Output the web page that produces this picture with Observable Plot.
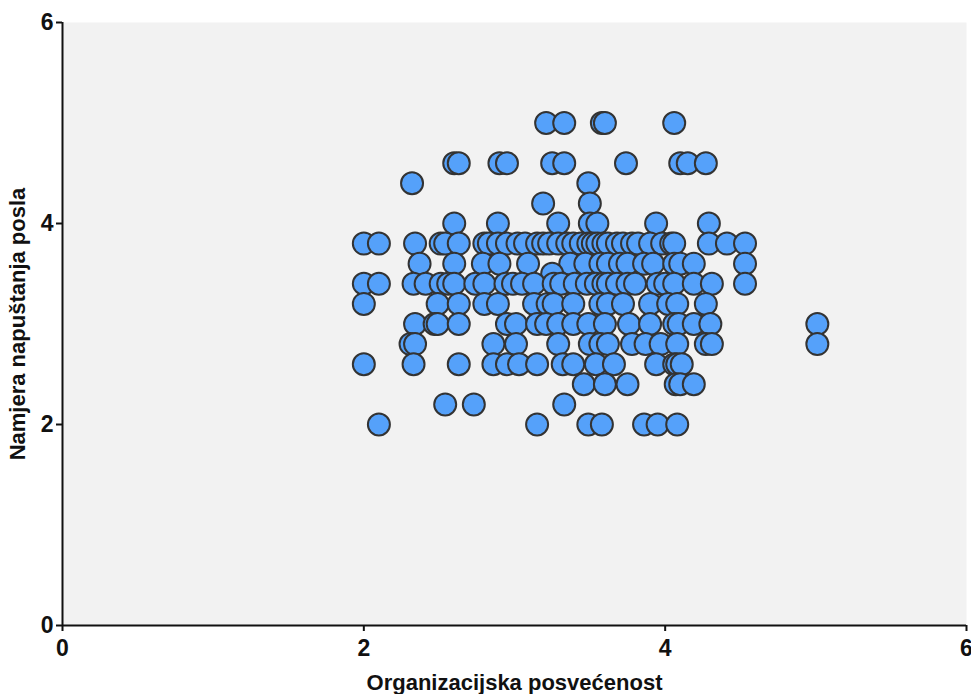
<!DOCTYPE html>
<html>
<head>
<meta charset="utf-8">
<script src="https://cdn.jsdelivr.net/npm/d3@7"></script>
<script src="https://cdn.jsdelivr.net/npm/@observablehq/plot@0.6"></script>
<style>
  html, body { margin: 0; padding: 0; background: #ffffff; }
  #chart svg { display: block; }
</style>
</head>
<body>
<div id="chart"></div>
<script>
// Organizational commitment (x) of respondents, grouped by their
// turnover intention score (y levels are on a 0.2 step scale).
const level50 = [3.21, 3.33, 3.58, 3.60, 4.06];
const level46 = [2.60, 2.63, 2.90, 2.95, 3.25, 3.33, 3.74, 4.10, 4.15, 4.27];
const level44 = [2.32, 3.49];
const level42 = [3.19, 3.50];
const level40 = [2.60, 2.89, 3.29, 3.50, 3.55, 3.94, 4.29];
const level38 = [2.00, 2.10, 2.34, 2.51, 2.54, 2.63, 2.80, 2.83, 2.89, 2.95, 3.02, 3.07, 3.15, 3.19,
                 3.23, 3.29, 3.35, 3.39, 3.44, 3.49, 3.52, 3.55, 3.59, 3.62, 3.68, 3.72, 3.78, 3.82,
                 3.90, 3.98, 4.04, 4.06, 4.29, 4.41, 4.53];
const level36 = [2.37, 2.60, 2.79, 2.90, 3.09, 3.37, 3.47, 3.57, 3.62, 3.70, 3.75, 3.86, 3.92, 4.06,
                 4.10, 4.19, 4.53];
const level35 = [3.25];
const level34 = [2.00, 2.10, 2.33, 2.41, 2.51, 2.56, 2.60, 2.74, 2.80, 2.94, 2.99, 3.05, 3.13, 3.26,
                 3.31, 3.40, 3.48, 3.54, 3.59, 3.62, 3.68, 3.75, 3.80, 3.95, 4.00, 4.06, 4.19, 4.31, 4.53];
const level32 = [2.00, 2.49, 2.63, 2.80, 2.89, 3.13, 3.22, 3.26, 3.39, 3.57, 3.62, 3.72, 3.90, 4.02,
                 4.08, 4.27];
const level30 = [2.34, 2.47, 2.49, 2.63, 2.95, 3.01, 3.15, 3.21, 3.29, 3.39, 3.49, 3.60, 3.76, 3.90,
                 4.06, 4.09, 4.19, 4.30, 5.01];
const level28 = [2.31, 2.34, 2.86, 3.01, 3.29, 3.50, 3.57, 3.62, 3.78, 3.87, 3.97, 4.08, 4.27, 4.31, 5.01];
const level26 = [2.00, 2.33, 2.63, 2.86, 2.95, 3.03, 3.15, 3.32, 3.39, 3.54, 3.66, 3.94, 4.06, 4.08, 4.11];
const level24 = [3.46, 3.60, 3.75, 4.07, 4.10, 4.19];
const level22 = [2.54, 2.73, 3.33];
const level20 = [2.10, 3.15, 3.49, 3.58, 3.86, 3.95, 4.08];

const levels = [
  [5.0, level50], [4.6, level46], [4.4, level44], [4.2, level42], [4.0, level40],
  [3.8, level38], [3.6, level36], [3.5, level35], [3.4, level34], [3.2, level32],
  [3.0, level30], [2.8, level28], [2.6, level26], [2.4, level24], [2.2, level22], [2.0, level20]
];

const axisTicks = [0, 2, 4, 6];
const xTitle = "Organizacijska posvećenost";
const yTitle = "Namjera napuštanja posla";

const respondents = levels.flatMap(([intent, xs]) => xs.map((commitment) => ({commitment, intent})));

const ink = "#111111";
const font = "'Liberation Sans', Arial, sans-serif";

const chart = Plot.plot({
  width: 971,
  height: 694,
  marginLeft: 62,
  marginRight: 5,
  marginTop: 22,
  marginBottom: 69,
  style: {fontFamily: font, fontSize: "22px", fontWeight: "bold", color: ink, background: "#ffffff", overflow: "visible"},
  x: {domain: [0, 6]},
  y: {domain: [0, 6]},
  marks: [
    Plot.frame({fill: "#f2f2f2", stroke: null}),
    Plot.dot(respondents, {
      x: "commitment", y: "intent", r: 11,
      fill: "#55a1fa", stroke: "#333333", strokeWidth: 2
    }),
    Plot.ruleX([0], {stroke: ink, strokeWidth: 2}),
    Plot.ruleY([0], {stroke: ink, strokeWidth: 2}),
    Plot.axisX({
      ticks: axisTicks, tickSize: 6, tickPadding: 8, tickFormat: "d", fontSize: 23,
      stroke: ink, strokeWidth: 2,
      label: null
    }),
    Plot.axisX({
      ticks: [], tickSize: 0,
      label: xTitle, labelAnchor: "center", labelArrow: "none", labelOffset: 64
    }),
    Plot.axisY({
      ticks: axisTicks, tickSize: 6, tickPadding: 3, tickFormat: "d", fontSize: 23,
      stroke: ink, strokeWidth: 2,
      label: null
    }),
    Plot.axisY({
      ticks: [], tickSize: 0,
      label: yTitle, labelAnchor: "center", labelArrow: "none", labelOffset: 53
    })
  ]
});

document.getElementById("chart").appendChild(chart);
</script>
</body>
</html>
